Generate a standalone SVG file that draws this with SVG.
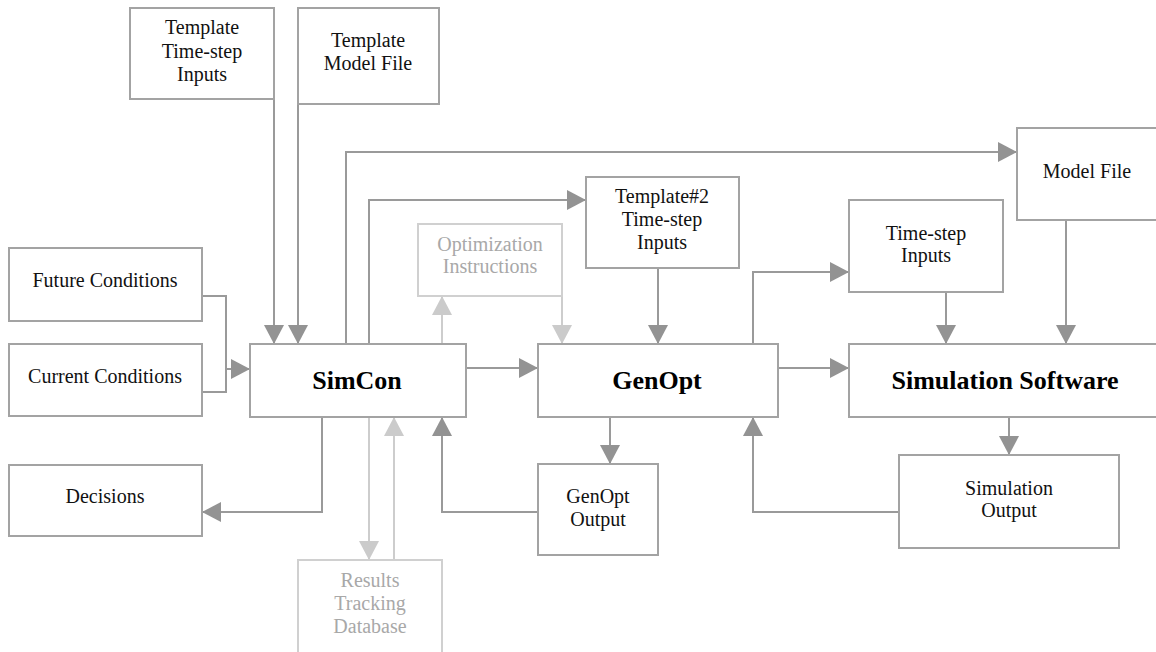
<svg xmlns="http://www.w3.org/2000/svg" width="1156" height="652" viewBox="0 0 1156 652">
  <style>
    .box { fill: #ffffff; stroke: #a3a3a3; stroke-width: 2; }
    .box.dim { stroke: #d0d0d0; }
    .lbl { font-family: 'Liberation Serif', 'Times New Roman', Tinos, 'DejaVu Serif', serif; font-size: 20px; fill: #111111; text-anchor: middle; }
    .lbl.dim { fill: #a8a8a8; }
    .big { font-family: 'Liberation Serif', 'Times New Roman', Tinos, 'DejaVu Serif', serif; font-size: 26px; font-weight: bold; fill: #000000; text-anchor: middle; }
    .wire { fill: none; stroke: #9a9a9a; stroke-width: 2; }
    .wire.dim { stroke: #cdcdcd; }
  </style>
  <defs>
    <marker id="arrow" markerUnits="userSpaceOnUse" markerWidth="20" markerHeight="20" viewBox="0 0 19 20" refX="19" refY="10" orient="auto">
      <path d="M0,0 L19,10 L0,20 z" fill="#939393"/>
    </marker>
    <marker id="arrow-dim" markerUnits="userSpaceOnUse" markerWidth="20" markerHeight="20" viewBox="0 0 19 20" refX="19" refY="10" orient="auto">
      <path d="M0,0 L19,10 L0,20 z" fill="#cbcbcb"/>
    </marker>
  </defs>

  <rect width="1156" height="652" fill="#ffffff"/>

  <!-- connectors -->
  <g id="connectors">
    <path class="wire" d="M274,99 V344" marker-end="url(#arrow)"/>
    <path class="wire" d="M298,104 V344" marker-end="url(#arrow)"/>
    <path class="wire" d="M346,344 V152 H1017" marker-end="url(#arrow)"/>
    <path class="wire" d="M369,344 V200 H586" marker-end="url(#arrow)"/>
    <path class="wire dim" d="M442,344 V296" marker-end="url(#arrow-dim)"/>
    <path class="wire dim" d="M562,296 V344" marker-end="url(#arrow-dim)"/>
    <path class="wire" d="M658,268 V344" marker-end="url(#arrow)"/>
    <path class="wire" d="M466,368 H538" marker-end="url(#arrow)"/>
    <path class="wire" d="M753,344 V272 H849" marker-end="url(#arrow)"/>
    <path class="wire" d="M778,368 H849" marker-end="url(#arrow)"/>
    <path class="wire" d="M946,292 V344" marker-end="url(#arrow)"/>
    <path class="wire" d="M1066,220 V344" marker-end="url(#arrow)"/>
    <path class="wire" d="M1009,417 V455" marker-end="url(#arrow)"/>
    <path class="wire" d="M899,512 H753 V417" marker-end="url(#arrow)"/>
    <path class="wire" d="M610,417 V464" marker-end="url(#arrow)"/>
    <path class="wire" d="M538,512 H442 V417" marker-end="url(#arrow)"/>
    <path class="wire" d="M322,417 V512 H202" marker-end="url(#arrow)"/>
    <path class="wire dim" d="M369,417 V560" marker-end="url(#arrow-dim)"/>
    <path class="wire dim" d="M394,560 V417" marker-end="url(#arrow-dim)"/>
    <path class="wire" d="M202,296 H226 V392 H202"/>
    <path class="wire" d="M226,369 H250" marker-end="url(#arrow)"/>
  </g>

  <!-- nodes -->
  <g id="template-timestep-inputs">
    <rect class="box" x="130" y="8" width="144" height="91"/>
    <text class="lbl" x="202" y="34">Template</text>
    <text class="lbl" x="202" y="58">Time-step</text>
    <text class="lbl" x="202" y="81">Inputs</text>
  </g>
  <g id="template-model-file">
    <rect class="box" x="298" y="8" width="141" height="96"/>
    <text class="lbl" x="368" y="47">Template</text>
    <text class="lbl" x="368" y="70">Model File</text>
  </g>
  <g id="template2-timestep-inputs">
    <rect class="box" x="586" y="177" width="153" height="91"/>
    <text class="lbl" x="662" y="203">Template#2</text>
    <text class="lbl" x="662" y="226">Time-step</text>
    <text class="lbl" x="662" y="249">Inputs</text>
  </g>
  <g id="optimization-instructions">
    <rect class="box dim" x="418" y="224" width="144" height="72"/>
    <text class="lbl dim" x="490" y="251">Optimization</text>
    <text class="lbl dim" x="490" y="273">Instructions</text>
  </g>
  <g id="model-file">
    <rect class="box" x="1017" y="128" width="150" height="92"/>
    <text class="lbl" x="1087" y="178">Model File</text>
  </g>
  <g id="timestep-inputs">
    <rect class="box" x="849" y="200" width="154" height="92"/>
    <text class="lbl" x="926" y="240">Time-step</text>
    <text class="lbl" x="926" y="262">Inputs</text>
  </g>
  <g id="future-conditions">
    <rect class="box" x="9" y="248" width="193" height="73"/>
    <text class="lbl" x="105" y="287">Future Conditions</text>
  </g>
  <g id="current-conditions">
    <rect class="box" x="9" y="344" width="193" height="72"/>
    <text class="lbl" x="105" y="383">Current Conditions</text>
  </g>
  <g id="simcon">
    <rect class="box" x="250" y="344" width="216" height="73"/>
    <text class="big" x="357" y="389">SimCon</text>
  </g>
  <g id="genopt">
    <rect class="box" x="538" y="344" width="240" height="73"/>
    <text class="big" x="657" y="389">GenOpt</text>
  </g>
  <g id="simulation-software">
    <rect class="box" x="849" y="344" width="320" height="73"/>
    <text class="big" x="1005" y="389">Simulation Software</text>
  </g>
  <g id="decisions">
    <rect class="box" x="9" y="465" width="193" height="71"/>
    <text class="lbl" x="105" y="503">Decisions</text>
  </g>
  <g id="genopt-output">
    <rect class="box" x="538" y="464" width="120" height="91"/>
    <text class="lbl" x="598" y="503">GenOpt</text>
    <text class="lbl" x="598" y="526">Output</text>
  </g>
  <g id="simulation-output">
    <rect class="box" x="899" y="455" width="220" height="93"/>
    <text class="lbl" x="1009" y="495">Simulation</text>
    <text class="lbl" x="1009" y="517">Output</text>
  </g>
  <g id="results-tracking-database">
    <rect class="box dim" x="298" y="560" width="144" height="120"/>
    <text class="lbl dim" x="370" y="587">Results</text>
    <text class="lbl dim" x="370" y="610">Tracking</text>
    <text class="lbl dim" x="370" y="633">Database</text>
  </g>
</svg>
